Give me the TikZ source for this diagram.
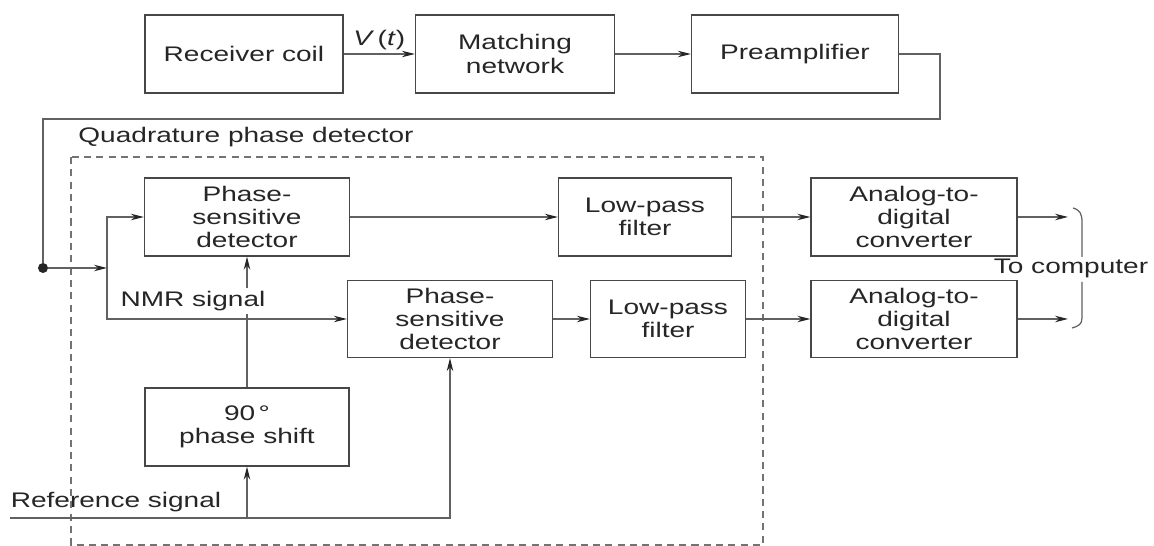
\documentclass[tikz,border=0pt]{standalone}
\usepackage{fontspec}
\setmainfont{Liberation Sans}[FakeStretch=1.33]
\usetikzlibrary{arrows.meta}

\begin{document}
\begin{tikzpicture}[
    x=0.02cm, y=-0.02cm,
    >={Stealth[length=2.6mm,width=1.3mm,black!85]},
    font=\fontsize{12pt}{13.3pt}\selectfont,
    text=black!85,
    block/.style={
        draw=black!72,
        line width=0.8pt,
        fill=white,
        minimum height=1.56cm,
        inner sep=0pt,
        align=center
    },
    lbl/.style={
        inner sep=1pt,
        align=center
    },
    arr/.style={->, line width=0.7pt, draw=black!62},
    wire/.style={line width=0.7pt, draw=black!62}
]
    \useasboundingbox (0,0) rectangle (1154,546);

    % top row
    \node[block, minimum width=3.96cm] (coil) at (244,54) {Receiver coil};
    \node[block, minimum width=3.98cm] (match) at (515,54) {Matching\\network};
    \node[block, minimum width=4.14cm] (preamp) at (795,54) {Preamplifier};

    % detector box
    \draw[black!55, line width=0.6pt, dash pattern=on 4pt off 3pt] (71,157) rectangle (763,545);
    \node[lbl] (quadlbl) at (246,137) {Quadrature phase detector};

    \node[block, minimum width=4.10cm] (psdA) at (247,217) {Phase-\\sensitive\\detector};
    \node[block, minimum width=3.46cm] (lpfA) at (645,217) {Low-pass\\filter};
    \node[block, minimum width=4.12cm] (adcA) at (914,217) {Analog-to-\\digital\\converter};

    \node[block, minimum width=4.10cm, minimum height=1.54cm] (psdB) at (450,319) {Phase-\\sensitive\\detector};
    \node[block, minimum width=3.10cm, minimum height=1.54cm] (lpfB) at (668,319) {Low-pass\\filter};
    \node[block, minimum width=4.12cm, minimum height=1.54cm] (adcB) at (914,319) {Analog-to-\\digital\\converter};

    \node[block, minimum width=4.08cm] (shift) at (247,427) {90\,°\\phase shift};

    % points
    \node[circle, fill=black!85, inner sep=0pt, minimum size=0.2cm] (dot) at (43,268) {};
    \coordinate (bend) at (940,119);
    \coordinate (split) at (107,268);
    \coordinate (refin) at (10,518);
    \coordinate (outA) at (1068,217);
    \coordinate (outB) at (1068,319);

    % signal path
    \draw[arr] (coil) -- (match) node[lbl, midway, above=1pt] (vlbl) {\textit{V}\,(\textit{t})};
    \draw[arr] (match) -- (preamp);
    \draw[wire] (preamp.east) -| (bend) -| (dot);
    \draw[arr] (dot) -- (split);
    \draw[arr] (split) |- (psdA.west);
    \draw[arr] (split) |- (psdB.west);

    \draw[arr] (psdA) -- (lpfA);
    \draw[arr] (lpfA) -- (adcA);
    \draw[arr] (adcA) -- (outA);
    \draw[arr] (psdB) -- (lpfB);
    \draw[arr] (lpfB) -- (adcB);
    \draw[arr] (adcB) -- (outB);

    % reference
    \draw[arr] (shift) -- (psdA);
    \node[lbl, fill=white, inner sep=2pt] (nmrlbl) at (193,301) {NMR signal};
    \draw[arr] (refin) -| (psdB.south);
    \draw[arr] (shift.south |- refin) -- (shift.south);
    \node[lbl] (reflbl) at (116,502) {Reference signal};

    % to computer
    \draw[wire] (1073,208) .. controls (1080,210) and (1082,214) .. (1082,222) -- (1082,257);
    \draw[wire] (1082,282) -- (1082,318) .. controls (1082,324) and (1079,326) .. (1072,328);
    \node[lbl] (complbl) at (1071,268) {To computer};
\end{tikzpicture}
\end{document}
